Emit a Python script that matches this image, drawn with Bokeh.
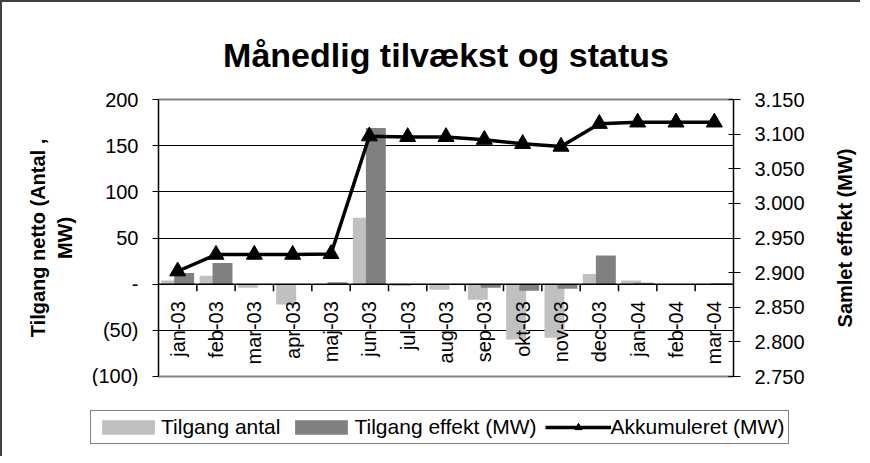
import math
from bokeh.plotting import figure
from bokeh.layouts import row
from bokeh.models import (Range1d, LinearAxis, FixedTicker, Legend, LegendItem, Span,
                          ColumnDataSource)
from bokeh.transform import dodge
from bokeh.core.properties import value
from bokeh.embed import file_html
from bokeh.resources import INLINE

# ---------------- data ----------------
months = ["jan-03", "feb-03", "mar-03", "apr-03", "maj-03", "jun-03", "jul-03", "aug-03",
          "sep-03", "okt-03", "nov-03", "dec-03", "jan-04", "feb-04", "mar-04"]
tilgang_antal = [4, 9, -4, -22, 0, 72, -2, -6, -17, -60, -58, 11, 4, 0, 0]
tilgang_effekt = [12, 23, -1, -1, 2, 169, -1, -1, -4, -7, -5, 31, 1.5, 0, 1]
akkumuleret = [2902, 2926, 2926, 2926, 2927, 3097, 3096, 3096, 3092, 3086, 3082, 3115, 3117, 3117, 3117]

left_ticks = [-100, -50, 0, 50, 100, 150, 200]
left_tick_labels = ["(100)", "(50)", "-", "50", "100", "150", "200"]
right_ticks = [2750, 2800, 2850, 2900, 2950, 3000, 3050, 3100, 3150]
right_tick_labels = ["2.750", "2.800", "2.850", "2.900", "2.950", "3.000", "3.050", "3.100", "3.150"]

title_text = "Månedlig tilvækst og status"
left_title = "Tilgang netto (Antal ,\nMW)"
right_title = "Samlet effekt (MW)"

FONT = "Liberation Sans"
C_ANTAL, C_EFFEKT, C_LINE = "#C0C0C0", "#808080", "black"
BORDER = "2px solid #404040"

# ---------------- layout constants ----------------
W, H = 826, 384
ML, MR, MT, MB = 156, 95, 97, 10
frame_h = H - MT - MB

x_center = [i + 0.5 for i in range(len(months))]
src = ColumnDataSource(dict(x=x_center, month=months, antal=tilgang_antal,
                            effekt=tilgang_effekt, akk=akkumuleret))

p = figure(width=W, height=H, output_backend="svg", toolbar_location=None,
           x_range=Range1d(0, len(months)), y_range=Range1d(-100, 200),
           x_axis_location=None,
           min_border_left=ML, min_border_right=MR, min_border_top=MT, min_border_bottom=MB,
           title=title_text)
p.extra_y_ranges = {"akk": Range1d(2750, 3150)}

p.title.align = "center"
p.title.text_font = FONT
p.title.text_font_size = "34px"
p.title.text_font_style = "bold"
p.title.text_color = "black"
p.title.standoff = 52

p.outline_line_color = "#808080"
p.outline_line_width = 2
p.background_fill_color = "white"
p.border_fill_color = "white"
p.xgrid.visible = False

# left axis
ya = p.yaxis[0]
ya.ticker = FixedTicker(ticks=left_ticks)
ya.major_label_overrides = {t: l for t, l in zip(left_ticks, left_tick_labels)}
ya.minor_tick_line_color = None
ya.major_tick_in = 0
ya.major_tick_out = 6
ya.axis_line_color = "black"
ya.major_tick_line_color = "black"
ya.major_label_text_font = FONT
ya.major_label_text_font_size = "20px"
ya.major_label_text_color = "black"
ya.major_label_standoff = 14
ya.axis_label = left_title
ya.axis_label_text_font = FONT
ya.axis_label_text_font_size = "20px"
ya.axis_label_text_font_style = "bold"
ya.axis_label_text_color = "black"
ya.axis_label_standoff = 13

p.ygrid.ticker = FixedTicker(ticks=left_ticks)
p.ygrid.grid_line_color = "black"
p.ygrid.grid_line_width = 1

# right axis (its title is drawn in the narrow strip to the right)
ra = LinearAxis(y_range_name="akk", ticker=FixedTicker(ticks=right_ticks))
ra.major_label_overrides = {t: l for t, l in zip(right_ticks, right_tick_labels)}
ra.minor_tick_line_color = None
ra.major_tick_in = 5
ra.major_tick_out = 7
ra.axis_line_color = "black"
ra.major_label_text_font = FONT
ra.major_label_text_font_size = "20px"
ra.major_label_text_color = "black"
ra.major_label_standoff = 14
p.add_layout(ra, "right")

# bars
bar_w = 0.52
r_antal = p.vbar(x=dodge("x", -0.17), top="antal", bottom=0, width=bar_w, source=src,
                 fill_color=C_ANTAL, line_color=None)
r_eff = p.vbar(x=dodge("x", 0.17), top="effekt", bottom=0, width=bar_w, source=src,
               fill_color=C_EFFEKT, line_color=None)

# zero (category) axis line and its boundary ticks
p.add_layout(Span(location=0, dimension="width", line_color="black", line_width=1.5))
tick_px = 7
tick_units = tick_px * (p.y_range.end - p.y_range.start) / frame_h
bounds = list(range(1, len(months)))
p.segment(x0=bounds, x1=bounds, y0=[0] * len(bounds), y1=[-tick_units] * len(bounds),
          line_color="black", line_width=1.5)

# month labels
p.text(x="x", y=0, text="month", source=src, angle=math.pi / 2, text_align="right",
       text_baseline="middle", y_offset=17, text_font=value(FONT), text_font_size="20px",
       text_color="black")

# accumulated line
r_line = p.line(x="x", y="akk", source=src, y_range_name="akk", line_color=C_LINE, line_width=3.5)
r_pts = p.scatter(x="x", y="akk", source=src, y_range_name="akk", marker="triangle", size=16,
                  fill_color=C_LINE, line_color=C_LINE)

# ---------------- strip carrying the right axis title ----------------
p3 = figure(width=32, height=H, output_backend="svg", toolbar_location=None,
            x_range=Range1d(0, 1), y_range=p.y_range,
            x_axis_location=None, y_axis_location=None,
            min_border_left=0, min_border_right=0, min_border_top=MT, min_border_bottom=MB)
p3.grid.visible = False
p3.outline_line_color = None
p3.border_fill_color = "white"
mid = (p.y_range.start + p.y_range.end) / 2
p3.text(x=[0.5], y=[mid], text=[right_title], angle=math.pi / 2, text_align="center",
        text_baseline="middle", text_font=value(FONT), text_font_size="20px",
        text_font_style="bold", text_color="black")

top = row(p, p3, spacing=0)
top.styles = {"border-left": BORDER, "border-top": BORDER}

# ---------------- legend strip below the chart ----------------
LH = 70
p2 = figure(width=W + 32, height=LH, output_backend="svg", toolbar_location=None,
            x_range=Range1d(-10, -9), y_range=Range1d(0, 1),
            x_axis_location=None, y_axis_location=None, min_border=0)
p2.styles = {"border-left": BORDER}
p2.grid.visible = False
p2.outline_line_color = None
p2.background_fill_color = "white"
p2.border_fill_color = "white"
l_antal = p2.vbar(x="x", top="antal", width=bar_w, source=src, fill_color=C_ANTAL, line_color=None)
l_eff = p2.vbar(x="x", top="effekt", width=bar_w, source=src, fill_color=C_EFFEKT, line_color=None)
l_line = p2.line(x="x", y="akk", source=src, line_color=C_LINE, line_width=3.5)
l_pts = p2.scatter(x="x", y="akk", source=src, marker="triangle", size=16,
                   fill_color=C_LINE, line_color=C_LINE)

legend = Legend(items=[LegendItem(label="Tilgang antal", renderers=[l_antal]),
                       LegendItem(label="Tilgang effekt (MW)", renderers=[l_eff]),
                       LegendItem(label="Akkumuleret (MW)", renderers=[l_line, l_pts])],
                orientation="horizontal", location=(88, 12))
legend.label_text_font = FONT
legend.label_text_font_size = "21px"
legend.label_text_color = "black"
legend.glyph_width = 66
legend.glyph_height = 18
legend.label_standoff = 0
legend.spacing = 8
legend.padding = 4
legend.margin = 0
legend.border_line_color = "black"
legend.border_line_width = 1
legend.background_fill_alpha = 1
p2.add_layout(legend, "center")

open("out.html", "w").write(file_html([top, p2], INLINE))
